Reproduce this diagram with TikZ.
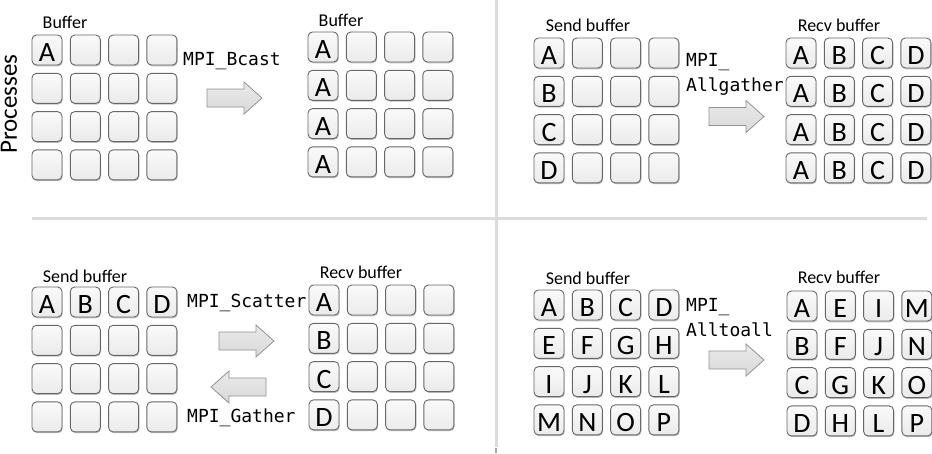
\documentclass[tikz,border=0pt]{standalone}
\usepackage{fontspec}
\setmainfont{Carlito}
\newfontfamily\monof{DejaVu Sans Mono}
\usetikzlibrary{shadows}
\definecolor{cellborder}{HTML}{686868}
\definecolor{divider}{HTML}{DCDCDC}
\definecolor{arrowborder}{HTML}{939393}
\newcommand\cellgrid[4]{%
  \foreach \rowlist [count=\r] in {#4}{%
    \foreach \l [count=\c] in \rowlist {%
      \node[cell] (#1-\r-\c) at ({#2+(\c-1)*38.3},{#3+(\r-1)*38.3}) {\l};
    }%
  }%
}
\tikzset{
  cell/.style={draw=cellborder, line width=0.9pt, rounded corners=4.5pt,
    minimum width=30pt, minimum height=30pt, inner sep=0pt,
    top color=gray!4, bottom color=gray!16,
    drop shadow={shadow xshift=0.7pt, shadow yshift=-1.3pt, opacity=0.45, fill=black!55},
    font=\fontsize{28}{28}\selectfont, text height=23pt, text depth=0pt},
  lab/.style={font=\fontsize{18}{20}\selectfont, inner sep=0pt},
  mono/.style={font=\monof\fontsize{18}{25}\selectfont, anchor=west, inner sep=0pt, align=left},
  blockarrow/.style={draw=arrowborder, line width=0.8pt, top color=gray!17, bottom color=gray!30},
  rarrow/.pic={\path[blockarrow] (0,-9) -- (37,-9) -- (37,-16) -- (55,0) -- (37,16) -- (37,9) -- (0,9) -- cycle;},
  larrow/.pic={\path[blockarrow] (0,-9) -- (-37,-9) -- (-37,-16) -- (-55,0) -- (-37,16) -- (-37,9) -- (0,9) -- cycle;},
}
\begin{document}
\begin{tikzpicture}[x=1pt,y=-1pt]
\useasboundingbox (0,0) rectangle (932,453);
\fill[white] (0,0) rectangle (932,453);
% dividers
\draw[divider, line width=3pt] (496,0) -- (496,447);
\draw[divider, line width=3pt] (32,218.5) -- (927,218.5);
\draw[gray!70, line width=1.5pt] (496,448) -- (496,453);
% side label
\node[rotate=90, font=\fontsize{25}{25}\selectfont, inner sep=0pt] (proc) at (9,104) {Processes};
% ---- MPI_Bcast
\node[lab] (tlbuf) at (65,22) {Buffer};
\cellgrid{tls}{47}{50}{{A,{},{},{}},{{},{},{},{}},{{},{},{},{}},{{},{},{},{}}}
\node[mono] (bcast) at (183,61) {MPI\_Bcast};
\pic at (207,98) {rarrow};
\node[lab] (trbuf) at (341,20) {Buffer};
\cellgrid{tlr}{323}{47}{{A,{},{},{}},{A,{},{},{}},{A,{},{},{}},{A,{},{},{}}}
% ---- MPI_Allgather
\node[lab] (agsb) at (588,25) {Send buffer};
\cellgrid{ags}{549}{53}{{A,{},{},{}},{B,{},{},{}},{C,{},{},{}},{D,{},{},{}}}
\node[mono] (allgather) at (686,74.5) {MPI\_\\Allgather};
\pic at (709,116.5) {rarrow};
\node[lab] (agrb) at (839,25) {Recv buffer};
\cellgrid{agr}{801}{53}{{A,B,C,D},{A,B,C,D},{A,B,C,D},{A,B,C,D}}
% ---- MPI_Scatter / MPI_Gather
\node[lab] (scsb) at (85,276) {Send buffer};
\cellgrid{scs}{47}{302}{{A,B,C,D},{{},{},{},{}},{{},{},{},{}},{{},{},{},{}}}
\node[mono] (scatter) at (187,303) {MPI\_Scatter};
\pic at (219,341) {rarrow};
\pic at (266,387) {larrow};
\node[mono] (gather) at (187,418) {MPI\_Gather};
\node[lab] (scrb) at (361,272) {Recv buffer};
\cellgrid{scr}{324}{300}{{A,{},{},{}},{B,{},{},{}},{C,{},{},{}},{D,{},{},{}}}
% ---- MPI_Alltoall
\node[lab] (atsb) at (588,278) {Send buffer};
\cellgrid{ats}{549}{305}{{A,B,C,D},{E,F,G,H},{I,J,K,L},{M,N,O,P}}
\node[mono] (alltoall) at (686,317.5) {MPI\_\\Alltoall};
\pic at (709,360) {rarrow};
\node[lab] (atrb) at (839,277) {Recv buffer};
\cellgrid{atr}{802}{306}{{A,E,I,M},{B,F,J,N},{C,G,K,O},{D,H,L,P}}
\end{tikzpicture}
\end{document}
